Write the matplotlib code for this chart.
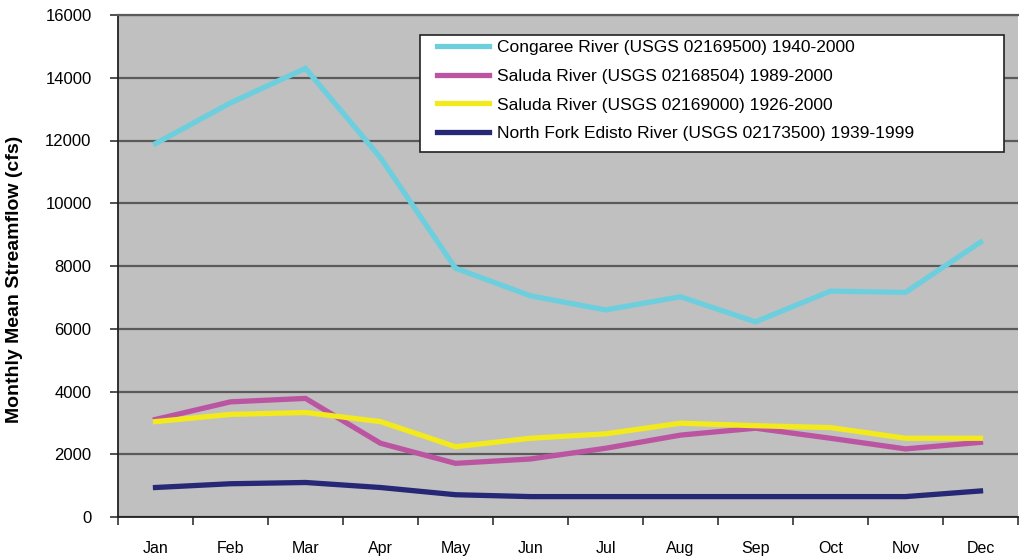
import matplotlib
matplotlib.use("Agg")
import matplotlib.pyplot as plt
from matplotlib.ticker import FixedLocator, NullFormatter
from matplotlib.patches import Rectangle

months = ["Jan", "Feb", "Mar", "Apr", "May", "Jun", "Jul", "Aug", "Sep", "Oct", "Nov", "Dec"]
congaree = [11900, 13200, 14300, 11450, 7930, 7050, 6600, 7020, 6220, 7200, 7160, 8760]
saluda_02168504 = [3110, 3670, 3780, 2350, 1710, 1850, 2190, 2610, 2830, 2510, 2170, 2380]
saluda_02169000 = [3040, 3270, 3330, 3040, 2240, 2510, 2650, 2990, 2910, 2850, 2510, 2510]
edisto = [940, 1060, 1100, 940, 710, 650, 650, 650, 650, 650, 650, 830]
labels = [
    "Congaree River (USGS 02169500) 1940-2000",
    "Saluda River (USGS 02168504) 1989-2000",
    "Saluda River (USGS 02169000) 1926-2000",
    "North Fork Edisto River (USGS 02173500) 1939-1999",
]
colors = ["#6DCFDD", "#BB55A2", "#F2EA1C", "#262876"]
yticks = [0, 2000, 4000, 6000, 8000, 10000, 12000, 14000, 16000]

plt.rcParams['font.family'] = ['Liberation Sans', 'DejaVu Sans']

W, H = 1020, 559
fig = plt.figure(figsize=(W / 100, H / 100), dpi=100)
ax_l, ax_r, ax_t, ax_b = 118, 1018, 15, 517
ax = fig.add_axes([ax_l / W, (H - ax_b) / H, (ax_r - ax_l) / W, (ax_b - ax_t) / H])
ax.set_facecolor("#C0C0C0")

def fx(px):
    return (px - ax_l) / (ax_r - ax_l)

def fy(py):
    return (ax_b - py) / (ax_b - ax_t)

x = list(range(len(months)))
for series, lab, col in zip([congaree, saluda_02168504, saluda_02169000, edisto], labels, colors):
    ax.plot(x, series, color=col, lw=3.8, label=lab, solid_joinstyle='miter', zorder=3)

ax.set_xlim(-0.5, 11.5)
ax.set_ylim(0, 16000)
ax.set_yticks(yticks)
ax.set_yticklabels([str(v) for v in yticks])
ax.yaxis.grid(True, color="#5A5A5A", lw=1.6)
ax.set_axisbelow(True)

ax.xaxis.set_major_locator(FixedLocator([i - 0.5 for i in range(13)]))
ax.xaxis.set_major_formatter(NullFormatter())
ax.xaxis.set_minor_locator(FixedLocator(x))
ax.set_xticklabels(months, minor=True)
ax.tick_params(axis='x', which='major', direction='out', length=6, width=1.2, color='#333333')
ax.tick_params(axis='x', which='minor', length=0, pad=17.5, labelsize=11.5)
ax.tick_params(axis='y', direction='out', length=6, width=1.2, color='#333333', pad=13, labelsize=12)

ax.spines['left'].set_color('#222222')
ax.spines['left'].set_linewidth(1.3)
ax.spines['bottom'].set_color('#222222')
ax.spines['bottom'].set_linewidth(1.3)
ax.spines['top'].set_color('#5A5A5A')
ax.spines['top'].set_linewidth(1.6)
ax.spines['right'].set_visible(False)

ax.set_ylabel("Monthly Mean Streamflow (cfs)", fontsize=14, fontweight='bold')
ax.yaxis.set_label_coords(fx(23), fy(279))

# legend frame
box = Rectangle((fx(420), fy(152)), fx(1004) - fx(420), fy(35) - fy(152),
                transform=ax.transAxes, facecolor='white', edgecolor='#222222',
                lw=1.2, zorder=4, clip_on=False)
ax.add_patch(box)
leg = ax.legend(loc='upper left', bbox_to_anchor=(fx(437), fy(40)), frameon=False,
                borderaxespad=0, borderpad=0, fontsize=12.5, handlelength=3.0,
                handletextpad=0.45, labelspacing=0.78)
leg.set_zorder(5)

fig.savefig("out.png", dpi=100)
